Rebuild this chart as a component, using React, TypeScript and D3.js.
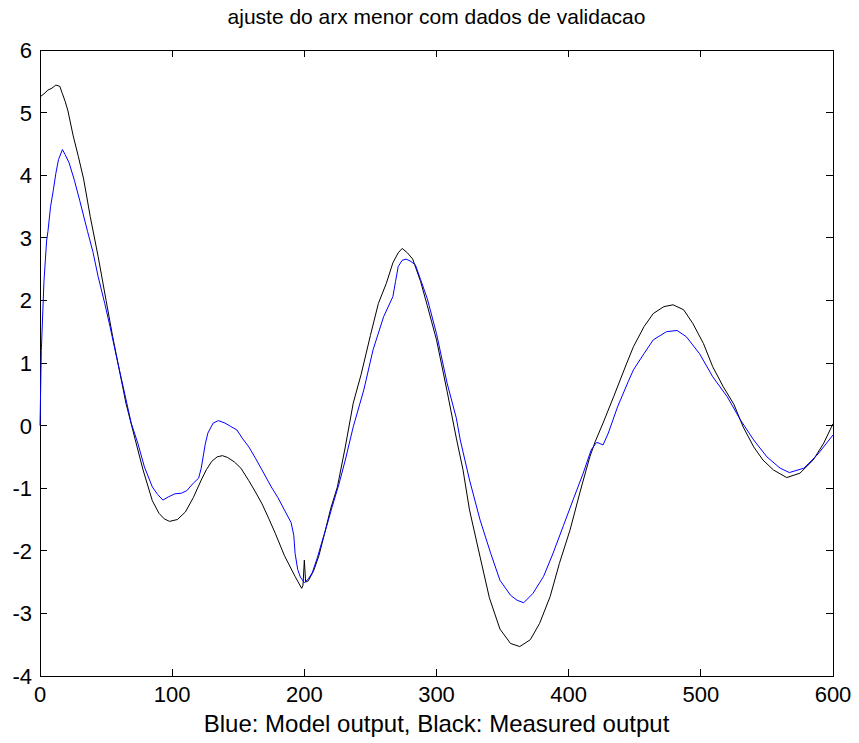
import { useRef, useEffect } from "react"
import * as d3 from "d3"

// sample index / value pairs
const measuredT = [0, 3, 6, 9, 12, 15, 17, 19, 21, 25, 29, 33, 38, 44, 50, 55, 60, 65, 72, 78, 85, 90, 94, 98, 104, 110, 116, 122, 126, 130, 134, 138, 142, 147, 152, 158, 163, 168, 173, 178, 185, 193, 198, 199, 200, 201, 203, 207, 211, 215, 220, 225, 231, 237, 243, 250, 256, 262, 267, 271, 274, 278, 282, 288, 293, 300, 308, 315, 320, 325, 333, 340, 348, 356, 363, 371, 378, 386, 393, 401, 409, 416, 420, 426, 434, 444, 449, 457, 464, 472, 479, 487, 494, 502, 509, 517, 525, 532, 540, 547, 555, 565, 575, 585, 593, 600]
const measuredY = [5.25, 5.3, 5.36, 5.39, 5.44, 5.42, 5.3, 5.18, 5.04, 4.64, 4.3, 3.94, 3.34, 2.7, 2.0, 1.42, 0.89, 0.36, -0.22, -0.71, -1.2, -1.4, -1.49, -1.53, -1.5, -1.38, -1.15, -0.87, -0.7, -0.57, -0.5, -0.48, -0.51, -0.58, -0.68, -0.88, -1.06, -1.25, -1.48, -1.72, -2.08, -2.41, -2.6, -2.55, -2.15, -2.5, -2.48, -2.32, -2.08, -1.75, -1.32, -0.98, -0.34, 0.36, 0.82, 1.44, 1.95, 2.27, 2.6, 2.76, 2.83, 2.76, 2.66, 2.3, 1.92, 1.37, 0.55, -0.2, -0.7, -1.35, -2.1, -2.75, -3.25, -3.48, -3.53, -3.42, -3.16, -2.73, -2.2, -1.67, -1.03, -0.5, -0.26, 0.04, 0.46, 1.0, 1.26, 1.58, 1.79, 1.9, 1.93, 1.85, 1.63, 1.31, 0.94, 0.62, 0.34, -0.02, -0.34, -0.55, -0.71, -0.83, -0.76, -0.55, -0.28, 0.03]

const modelT = [0, 1, 3, 5, 6, 8, 10, 12, 14, 17, 19, 22, 26, 30, 36, 40, 44, 49, 53, 59, 64, 69, 74, 79, 85, 89, 93, 97, 102, 107, 111, 116, 120, 122, 125, 127, 131, 135, 140, 144, 149, 153, 158, 163, 168, 175, 180, 185, 190, 192, 193, 195, 197, 200, 203, 206, 210, 213, 217, 221, 226, 231, 237, 245, 252, 260, 267, 269, 271, 274, 277, 280, 284, 288, 293, 300, 308, 315, 318, 325, 333, 341, 348, 356, 361, 366, 373, 381, 388, 396, 404, 411, 417, 421, 423, 426, 430, 437, 445, 449, 457, 464, 474, 482, 489, 499, 509, 520, 530, 540, 550, 560, 567, 578, 588, 600]
const modelY = [0, 1.2, 2.3, 2.95, 3.1, 3.5, 3.75, 4.03, 4.25, 4.41, 4.33, 4.2, 3.92, 3.6, 3.1, 2.78, 2.38, 1.95, 1.58, 0.99, 0.52, 0.04, -0.28, -0.66, -0.98, -1.1, -1.19, -1.14, -1.09, -1.08, -1.04, -0.92, -0.84, -0.68, -0.3, -0.12, 0.04, 0.08, 0.04, -0.01, -0.07, -0.2, -0.34, -0.52, -0.71, -0.98, -1.15, -1.35, -1.55, -1.75, -2.04, -2.3, -2.42, -2.51, -2.45, -2.35, -2.1, -1.88, -1.6, -1.3, -0.95, -0.55, -0.02, 0.57, 1.21, 1.74, 2.06, 2.3, 2.54, 2.64, 2.66, 2.63, 2.57, 2.33, 2.03, 1.47, 0.68, 0.12, -0.23, -0.87, -1.51, -2.04, -2.47, -2.71, -2.79, -2.83, -2.68, -2.41, -2.05, -1.6, -1.15, -0.76, -0.39, -0.27, -0.28, -0.31, -0.12, 0.3, 0.7, 0.89, 1.15, 1.37, 1.5, 1.52, 1.42, 1.15, 0.78, 0.46, 0.09, -0.23, -0.5, -0.68, -0.75, -0.68, -0.47, -0.15]

const xTicks = [0, 100, 200, 300, 400, 500, 600]
const yTicks = [-4, -3, -2, -1, 0, 1, 2, 3, 4, 5, 6]

const titleText = "ajuste do arx menor com dados de validacao"
const xLabelText = "Blue: Model output, Black: Measured output"

const width = 859
const height = 743
const margin = { top: 50, right: 26, bottom: 67, left: 40 }
const font = "'Liberation Sans', Arial, sans-serif"

const App = () => {
  const svgRef = useRef<SVGSVGElement>(null)

  useEffect(() => {
    const svg = d3.select(svgRef.current)
    svg.selectAll("*").remove()

    const x = d3
      .scaleLinear()
      .domain([0, 600])
      .range([margin.left, width - margin.right])
    const y = d3
      .scaleLinear()
      .domain([-4, 6])
      .range([height - margin.bottom, margin.top])

    const tick = 7

    // axes box
    svg
      .append("rect")
      .attr("x", x(0))
      .attr("y", y(6))
      .attr("width", x(600) - x(0))
      .attr("height", y(-4) - y(6))
      .attr("fill", "white")
      .attr("stroke", "black")
      .attr("stroke-width", 1)
      .attr("shape-rendering", "crispEdges")

    const g = svg.append("g").attr("shape-rendering", "crispEdges")

    // inward ticks on all four sides
    xTicks.forEach((t) => {
      g.append("line")
        .attr("x1", x(t)).attr("x2", x(t))
        .attr("y1", y(-4)).attr("y2", y(-4) - tick)
        .attr("stroke", "black")
      g.append("line")
        .attr("x1", x(t)).attr("x2", x(t))
        .attr("y1", y(6)).attr("y2", y(6) + tick)
        .attr("stroke", "black")
    })
    yTicks.forEach((t) => {
      g.append("line")
        .attr("x1", x(0)).attr("x2", x(0) + tick)
        .attr("y1", y(t)).attr("y2", y(t))
        .attr("stroke", "black")
      g.append("line")
        .attr("x1", x(600)).attr("x2", x(600) - tick)
        .attr("y1", y(t)).attr("y2", y(t))
        .attr("stroke", "black")
    })

    svg
      .append("g")
      .selectAll("text")
      .data(xTicks)
      .enter()
      .append("text")
      .attr("x", (d) => x(d))
      .attr("y", y(-4) + 26)
      .attr("text-anchor", "middle")
      .style("font-family", font)
      .style("font-size", "22px")
      .text((d) => d)

    svg
      .append("g")
      .selectAll("text")
      .data(yTicks)
      .enter()
      .append("text")
      .attr("x", x(0) - 8)
      .attr("y", (d) => y(d) + 8)
      .attr("text-anchor", "end")
      .style("font-family", font)
      .style("font-size", "22px")
      .text((d) => d)

    const measured = measuredT.map((t, i) => [t, measuredY[i]] as [number, number])
    const model = modelT.map((t, i) => [t, modelY[i]] as [number, number])

    const path = d3
      .line<[number, number]>()
      .x((d) => x(d[0]))
      .y((d) => y(d[1]))

    svg
      .append("path")
      .attr("d", path(measured))
      .attr("fill", "none")
      .attr("stroke", "black")
      .attr("stroke-width", 1)

    svg
      .append("path")
      .attr("d", path(model))
      .attr("fill", "none")
      .attr("stroke", "#0000ff")
      .attr("stroke-width", 1)

    svg
      .append("text")
      .attr("x", (x(0) + x(600)) / 2)
      .attr("y", 24)
      .attr("text-anchor", "middle")
      .style("font-family", font)
      .style("font-size", "21px")
      .text(titleText)

    svg
      .append("text")
      .attr("x", (x(0) + x(600)) / 2)
      .attr("y", 732)
      .attr("text-anchor", "middle")
      .style("font-family", font)
      .style("font-size", "24px")
      .text(xLabelText)
  }, [])

  return (
    <svg
      ref={svgRef}
      width={width}
      height={height}
      style={{ position: "absolute", left: 0, top: 0, background: "white" }}
    ></svg>
  )
}

export default App
